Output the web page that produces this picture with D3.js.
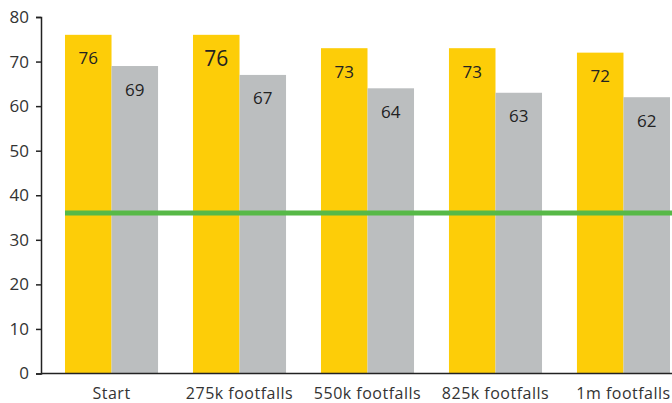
<!DOCTYPE html>
<html><head><meta charset="utf-8">
<script src="https://cdn.jsdelivr.net/npm/d3@7"></script>
<style>body{margin:0;background:#fff}svg{display:block}text{font-family:"Open Sans","Lato",sans-serif;font-weight:400}</style>
</head><body><svg id="c" width="672" height="403"></svg>
<script>
const categories = ["Start","275k footfalls","550k footfalls","825k footfalls","1m footfalls"];
const seriesA = [76,76,73,73,72];
const seriesB = [69,67,64,63,62];
const benchmark = 36;
const yTicks = [0,10,20,30,40,50,60,70,80];

const svg = d3.select("#c");
const x0 = d3.scaleBand().domain(categories).range([41,694]).paddingInner(0.273).paddingOuter(0.1875);
const x1 = d3.scaleBand().domain(["a","b"]).range([0,x0.bandwidth()]);
const y = d3.scaleLinear().domain([0,80]).range([373.5,17]);
const colors = {a:"#FDCD08", b:"#BBBEBF"};

const g = svg.append("g");
categories.forEach((c,i)=>{
  [["a",seriesA[i]],["b",seriesB[i]]].forEach(([k,v])=>{
    g.append("rect").attr("x",x0(c)+x1(k)).attr("y",y(v)).attr("width",x1.bandwidth()).attr("height",y(0)-y(v)).attr("fill",colors[k]);
    const big = (k==="a" && i===1);
    g.append("text").attr("x",x0(c)+x1(k)+x1.bandwidth()/2).attr("y",y(v)+23)
      .attr("text-anchor","middle").attr("dominant-baseline","central")
      .attr("font-size",big?21:17).attr("fill","#222").text(v);
  });
});

svg.append("line").attr("x1",x0(categories[0])).attr("x2",672).attr("y1",y(benchmark)).attr("y2",y(benchmark))
  .attr("stroke","#57B947").attr("stroke-width",5);

const yAxis = svg.append("g").attr("transform","translate(41,0)")
  .call(d3.axisLeft(y).tickValues(yTicks).tickSize(5).tickPadding(7));
yAxis.select(".domain").attr("stroke","#222").attr("stroke-width",1.5);
yAxis.selectAll(".tick line").attr("stroke","#222").attr("stroke-width",1.5);
yAxis.selectAll(".tick text").attr("font-size",17).attr("fill","#333");

const xAxis = svg.append("g").attr("transform","translate(0,373.5)")
  .call(d3.axisBottom(x0).tickSize(0).tickPadding(14));
xAxis.select(".domain").attr("d","M41,0H672").attr("stroke","#222").attr("stroke-width",1.5);
xAxis.selectAll(".tick text").attr("font-size",16).attr("letter-spacing","0.5px").attr("fill","#333");
</script></body></html>
